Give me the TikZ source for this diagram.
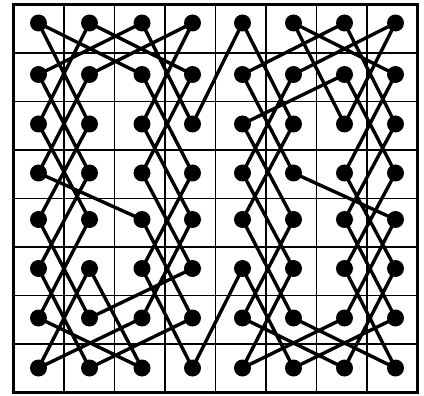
\documentclass[tikz,border=0pt]{standalone}
\begin{document}
\begin{tikzpicture}[x=1pt,y=-1pt,
  gridline/.style={line width=1.4pt},
  frameline/.style={line width=2.6pt},
  dot/.style={circle,fill=black,inner sep=0pt,minimum size=17pt},
  tour/.style={line width=3.4pt,line join=round}]
\useasboundingbox (0,0) rectangle (424,396);
\foreach \i in {1,...,7} {
  \draw[gridline] ({13.3+50.5*\i},4.5) -- ({13.3+50.5*\i},392.5);
  \draw[gridline] (13.3,{4.5+48.5*\i}) -- (417.3,{4.5+48.5*\i});
}
\draw[frameline] (13.3,4.5) rectangle (417.3,392.5);
\foreach \c/\x in {1/38.5,2/89.5,3/142,4/192.5,5/242.5,6/293.5,7/344.5,8/395.5}
  \foreach \r/\y in {1/23,2/74.5,3/124,4/173,5/219.5,6/268.5,7/318,8/368}
    \node[dot] (n\c\r) at (\x,\y) {};
\draw[tour] (n11.center) -- (n23.center) -- (n15.center) -- (n27.center) -- (n46.center)
  -- (n34.center) -- (n42.center) -- (n21.center) -- (n13.center) -- (n25.center)
  -- (n17.center) -- (n38.center) -- (n26.center) -- (n18.center) -- (n37.center)
  -- (n45.center) -- (n33.center) -- (n41.center) -- (n22.center) -- (n14.center)
  -- (n35.center) -- (n47.center) -- (n28.center) -- (n16.center) -- (n24.center)
  -- (n12.center) -- (n31.center) -- (n43.center) -- (n51.center) -- (n63.center)
  -- (n55.center) -- (n67.center) -- (n88.center) -- (n76.center) -- (n84.center)
  -- (n72.center) -- (n53.center) -- (n65.center) -- (n57.center) -- (n78.center)
  -- (n86.center) -- (n74.center) -- (n82.center) -- (n61.center) -- (n73.center)
  -- (n81.center) -- (n62.center) -- (n54.center) -- (n66.center) -- (n58.center)
  -- (n77.center) -- (n85.center) -- (n64.center) -- (n52.center) -- (n71.center)
  -- (n83.center) -- (n75.center) -- (n87.center) -- (n68.center) -- (n56.center)
  -- (n48.center) -- (n36.center) -- (n44.center) -- (n32.center) -- cycle;
\end{tikzpicture}
\end{document}
